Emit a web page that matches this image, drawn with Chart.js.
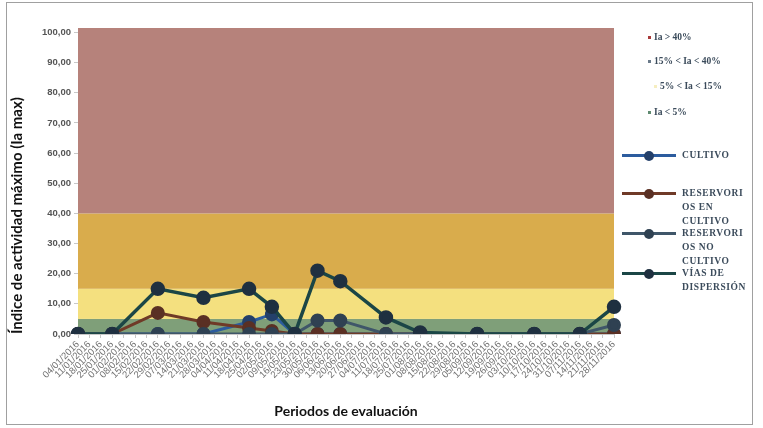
<!DOCTYPE html>
<html>
<head>
<meta charset="utf-8">
<script src="https://cdn.jsdelivr.net/npm/chart.js@4/dist/chart.umd.min.js"></script>
<style>
  body { margin: 0; background: #fff; }
  #wrap { position: relative; width: 763px; height: 428px; }
  #frame { position: absolute; left: 6px; top: 2px; width: 745px; height: 421px; border: 1px solid #a0a0a0; }
  #legend { position: absolute; left: 620px; top: 0; width: 140px; font-family: "Liberation Serif", serif; font-weight: bold; color: #3b4b5b; }
  .band { position: absolute; font-size: 9.5px; white-space: nowrap; }
  .band i { display: inline-block; width: 3px; height: 3px; margin-right: 3px; vertical-align: middle; }
  .ser { position: absolute; font-size: 9.5px; line-height: 14px; letter-spacing: 0.6px; }
  .ser b { position: absolute; left: 2px; width: 54px; height: 3px; }
  .ser u { position: absolute; left: 24px; width: 10px; height: 10px; border-radius: 50%; }
  .ser span { position: absolute; left: 62px; width: 80px; }
</style>
</head>
<body>
<div id="wrap">
  <div id="frame"></div>
  <canvas id="myChart" width="763" height="428"></canvas>
  <div id="legend"></div>
</div>
<script>
// weekly evaluation dates
const periods = ["04/01/2016", "11/01/2016", "18/01/2016", "25/01/2016", "01/02/2016", "08/02/2016",
  "15/02/2016", "22/02/2016", "29/02/2016", "07/03/2016", "14/03/2016", "21/03/2016", "28/03/2016",
  "04/04/2016", "11/04/2016", "18/04/2016", "25/04/2016", "02/05/2016", "09/05/2016", "16/05/2016",
  "23/05/2016", "30/05/2016", "06/06/2016", "13/06/2016", "20/06/2016", "27/06/2016", "04/07/2016",
  "11/07/2016", "18/07/2016", "25/07/2016", "01/08/2016", "08/08/2016", "15/08/2016", "22/08/2016",
  "29/08/2016", "05/09/2016", "12/09/2016", "19/09/2016", "26/09/2016", "03/10/2016", "10/10/2016",
  "17/10/2016", "24/10/2016", "31/10/2016", "07/11/2016", "14/11/2016", "21/11/2016", "28/11/2016"];

// null = no sample that week (line spans over it)
const cultivo = [0, null, null, 0, null, null, null, 0, null, null, null, 0, null, null, null, 4, null, 6.5,
  null, 0, null, 0, null, 0, null, null, null, 0, null, null, 0, null, null, null, null, 0, null, null, null,
  null, 0, null, null, null, 0, null, null, 0];
const resEnCultivo = [0, null, null, 0, null, null, null, 7, null, null, null, 4, null, null, null, 2, null, 1,
  null, 0, null, 0, null, 0, null, null, null, 0, null, null, 0, null, null, null, null, 0, null, null, null,
  null, 0, null, null, null, 0, null, null, 0];
const resNoCultivo = [0, null, null, 0, null, null, null, 0, null, null, null, 0, null, null, null, 0, null, 0,
  null, 0, null, 4.5, null, 4.5, null, null, null, 0, null, null, 0, null, null, null, null, 0, null, null, null,
  null, 0, null, null, null, 0, null, null, 3];
const viasDispersion = [0, null, null, 0, null, null, null, 15, null, null, null, 12, null, null, null, 15, null, 9,
  null, 0, null, 21, null, 17.5, null, null, null, 5.5, null, null, 0.5, null, null, null, null, 0, null, null, null,
  null, 0, null, null, null, 0, null, null, 9];

const yTicks = [0, 10, 20, 30, 40, 50, 60, 70, 80, 90, 100];
const yMax = 101.5;
const bandLimits = [0, 5, 15, 40, yMax];
const bandColors = ["#7f9f79", "#f4e07f", "#d9ac4c", "#b6827b"];
const bandNames = ["Ia > 40%", "15% < Ia < 40%", "5% < Ia < 15%", "Ia < 5%"];
const bandMarks = ["#a83a3a", "#6a7a8a", "#f6eec0", "#5f8a70"];

const seriesNames = ["CULTIVO", "RESERVORIOS EN CULTIVO", "RESERVORIOS NO CULTIVO", "VÍAS DE DISPERSIÓN"];
const seriesColors = ["#2c5c9e", "#6f3a27", "#3f5669", "#1b4646"];
const seriesMarks = ["#24406a", "#5a3024", "#2f4152", "#1f3040"];
const seriesWidths = [3, 3, 3, 3.5];

// colored Ia bands behind the lines
const bandPlugin = {
  id: "bands",
  beforeDatasetsDraw(chart) {
    const ctx = chart.ctx, area = chart.chartArea, y = chart.scales.y;
    for (let i = 0; i < bandColors.length; i++) {
      const top = y.getPixelForValue(bandLimits[i + 1]);
      const bottom = y.getPixelForValue(bandLimits[i]);
      ctx.fillStyle = bandColors[i];
      ctx.fillRect(area.left, top, area.right - area.left, bottom - top);
    }
  }
};

const allData = [cultivo, resEnCultivo, resNoCultivo, viasDispersion];
const drawOrder = [3, 2, 1, 0];

const ctx = document.getElementById("myChart").getContext("2d");
window.chart = new Chart(ctx, {
  type: "line",
  data: {
    labels: periods,
    datasets: allData.map((d, i) => ({
      label: seriesNames[i],
      data: d,
      borderColor: seriesColors[i],
      backgroundColor: seriesMarks[i],
      pointBackgroundColor: seriesMarks[i],
      pointBorderColor: seriesMarks[i],
      pointRadius: 5.5,
      borderWidth: seriesWidths[i],
      spanGaps: true,
      tension: 0,
      order: drawOrder[i]
    }))
  },
  plugins: [bandPlugin],
  options: {
    responsive: false,
    animation: false,
    layout: { padding: { left: 8, top: 28, right: 149, bottom: 6 } },
    plugins: { legend: { display: false }, tooltip: { enabled: false } },
    scales: {
      x: {
        offset: false,
        grid: { drawOnChartArea: false, tickLength: 4, color: "#c8c8c8" },
        border: { color: "#c8c8c8" },
        ticks: {
          autoSkip: false, minRotation: 45, maxRotation: 45, padding: 1,
          color: "#707070", font: { family: "Liberation Sans", size: 9.5 }
        },
        title: {
          display: true, text: "Periodos de evaluación", color: "#111",
          font: { family: "Lato", size: 14, weight: "bold" }, padding: { top: 2, bottom: 2 }
        },
        afterFit(s) { s.height = 88; }
      },
      y: {
        min: 0, max: yMax,
        afterBuildTicks(s) { s.ticks = yTicks.map(v => ({ value: v })); },
        grid: { drawOnChartArea: false, tickLength: 4, color: "#c8c8c8" },
        border: { color: "#c8c8c8" },
        ticks: {
          color: "#555", padding: 3,
          font: { family: "Liberation Sans", size: 9.5, weight: "bold" },
          callback: v => v.toFixed(2).replace(".", ",")
        },
        title: {
          display: true, text: "Índice de actividad máximo (Ia max)", color: "#111", align: "start",
          font: { family: "Lato", size: 15, weight: "bold" }, padding: { top: 0, bottom: 4 }
        },
        afterFit(s) { s.width = 70; }
      }
    }
  }
});

// legend on the right
const legend = document.getElementById("legend");
let html = "";
const bandTops = [32, 56, 81, 107];
for (let i = 0; i < bandNames.length; i++) {
  html += `<div class="band" style="left:${i == 2 ? 34 : 28}px;top:${bandTops[i]}px"><i style="background:${bandMarks[i]}"></i>${bandNames[i]}</div>`;
}
const serTops = [148, 186, 226, 266];
const serText = ["CULTIVO", "RESERVORI<br>OS EN<br>CULTIVO", "RESERVORI<br>OS NO<br>CULTIVO", "VÍAS DE<br>DISPERSIÓN"];
for (let i = 0; i < seriesNames.length; i++) {
  html += `<div class="ser" style="top:${serTops[i]}px;left:0"><b style="top:6px;background:${seriesColors[i]}"></b>` +
    `<u style="top:3px;background:${seriesMarks[i]}"></u><span>${serText[i]}</span></div>`;
}
legend.innerHTML = html;
</script>
</body>
</html>
